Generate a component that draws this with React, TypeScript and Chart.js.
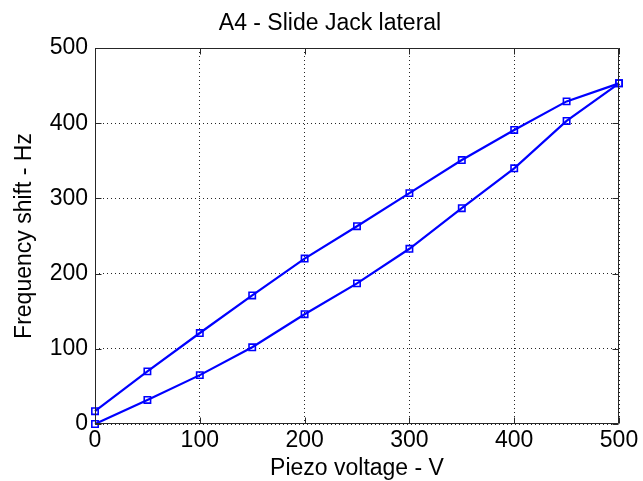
import React, { useEffect, useRef } from 'react';
import { Chart, registerables } from 'chart.js';

Chart.register(...registerables);

const chartTitle = 'A4 - Slide Jack lateral';
const xAxisTitle = 'Piezo voltage - V';
const yAxisTitle = 'Frequency shift - Hz';

const voltages = [0, 50, 100, 150, 200, 250, 300, 350, 400, 450, 500];
const upperBranch = [17, 70, 121, 171, 220, 263, 307, 351, 391, 429, 453];
const lowerBranch = [0, 32, 65, 102, 146, 187, 233, 287, 340, 403, 453];

const xTicks = [0, 100, 200, 300, 400, 500];
const yTicks = [0, 100, 200, 300, 400, 500];

const FONT = "'Liberation Sans', Arial, Helvetica, sans-serif";
const BLUE = '#0000ff';
const AXIS = '#262626';

const matlabBox = {
  id: 'matlabBox',
  afterDatasetsDraw(chart: any) {
    const { ctx, chartArea: a, scales } = chart;
    ctx.save();
    ctx.strokeStyle = AXIS;
    ctx.lineWidth = 1;
    ctx.setLineDash([]);
    const L = Math.round(a.left) + 0.5;
    const R = Math.round(a.right) - 0.5;
    const T = Math.round(a.top) + 0.5;
    const B = Math.round(a.bottom) - 0.5;
    ctx.beginPath();
    ctx.rect(L, T, R - L, B - T);
    const len = 6;
    xTicks.forEach((v) => {
      const px = Math.round(scales.x.getPixelForValue(v)) + 0.5;
      ctx.moveTo(px, B);
      ctx.lineTo(px, B - len);
      ctx.moveTo(px, T);
      ctx.lineTo(px, T + len);
    });
    yTicks.forEach((v) => {
      const py = Math.round(scales.y.getPixelForValue(v)) + 0.5;
      ctx.moveTo(L, py);
      ctx.lineTo(L + len, py);
      ctx.moveTo(R, py);
      ctx.lineTo(R - len, py);
    });
    ctx.stroke();
    ctx.restore();
  },
  afterDraw(chart: any) {
    const { ctx } = chart;
    ctx.save();
    ctx.fillStyle = '#000';
    ctx.font = `23px ${FONT}`;
    ctx.textAlign = 'center';
    ctx.textBaseline = 'alphabetic';
    ctx.fillText(chartTitle, 330, 30);
    ctx.restore();
  },
};

export default function App() {
  const canvasRef = useRef<HTMLCanvasElement | null>(null);

  useEffect(() => {
    const canvas = canvasRef.current;
    if (!canvas) return;
    const makeSeries = (label: string, values: number[]) => ({
      label,
      data: voltages.map((v, i) => ({ x: v, y: values[i] })),
      borderColor: BLUE,
      backgroundColor: 'rgba(0,0,0,0)',
      borderWidth: 2.2,
      pointStyle: 'rect',
      pointRadius: 4.5,
      pointBorderWidth: 1.6,
      pointBorderColor: BLUE,
      pointBackgroundColor: 'rgba(0,0,0,0)',
      tension: 0,
      clip: false as any,
    });
    const chart = new Chart(canvas, {
      type: 'line',
      data: {
        datasets: [makeSeries('upper', upperBranch), makeSeries('lower', lowerBranch)],
      },
      options: {
        animation: false,
        responsive: true,
        maintainAspectRatio: false,
        layout: { padding: { top: 48, right: 24, left: 0, bottom: 0 } },
        plugins: {
          legend: { display: false },
          title: { display: false },
          tooltip: { enabled: false },
        },
        scales: {
          x: {
            type: 'linear',
            min: 0,
            max: 500,
            afterBuildTicks: (scale: any) => {
              scale.ticks = xTicks.map((v) => ({ value: v }));
            },
            afterFit: (scale: any) => {
              scale.height = 57;
            },
            ticks: {
              color: '#000',
              font: { family: FONT, size: 23 },
              padding: 3,
              maxRotation: 0,
              autoSkip: false,
            },
            grid: {
              color: 'rgba(0,0,0,0.85)',
              lineWidth: 1,
              drawTicks: false,
            },
            border: { display: false, dash: [1, 3] },
            title: {
              display: true,
              text: xAxisTitle,
              color: '#000',
              font: { family: FONT, size: 23, lineHeight: 1 },
              padding: { top: 0, bottom: 1 },
            },
          },
          y: {
            type: 'linear',
            min: 0,
            max: 500,
            afterBuildTicks: (scale: any) => {
              scale.ticks = yTicks.map((v) => ({ value: v }));
            },
            afterFit: (scale: any) => {
              scale.width = 95;
            },
            ticks: {
              color: '#000',
              font: { family: FONT, size: 23 },
              padding: 7,
              autoSkip: false,
            },
            grid: {
              color: 'rgba(0,0,0,0.85)',
              lineWidth: 1,
              drawTicks: false,
            },
            border: { display: false, dash: [1, 3] },
            title: {
              display: true,
              text: yAxisTitle,
              color: '#000',
              font: { family: FONT, size: 23 },
              padding: { top: 11, bottom: 0 },
            },
          },
        },
      },
      plugins: [matlabBox],
    });
    return () => chart.destroy();
  }, []);

  return (
    <div style={{ position: 'fixed', left: 0, top: 0, width: 643, height: 481, background: '#fff' }}>
      <canvas ref={canvasRef} />
    </div>
  );
}
